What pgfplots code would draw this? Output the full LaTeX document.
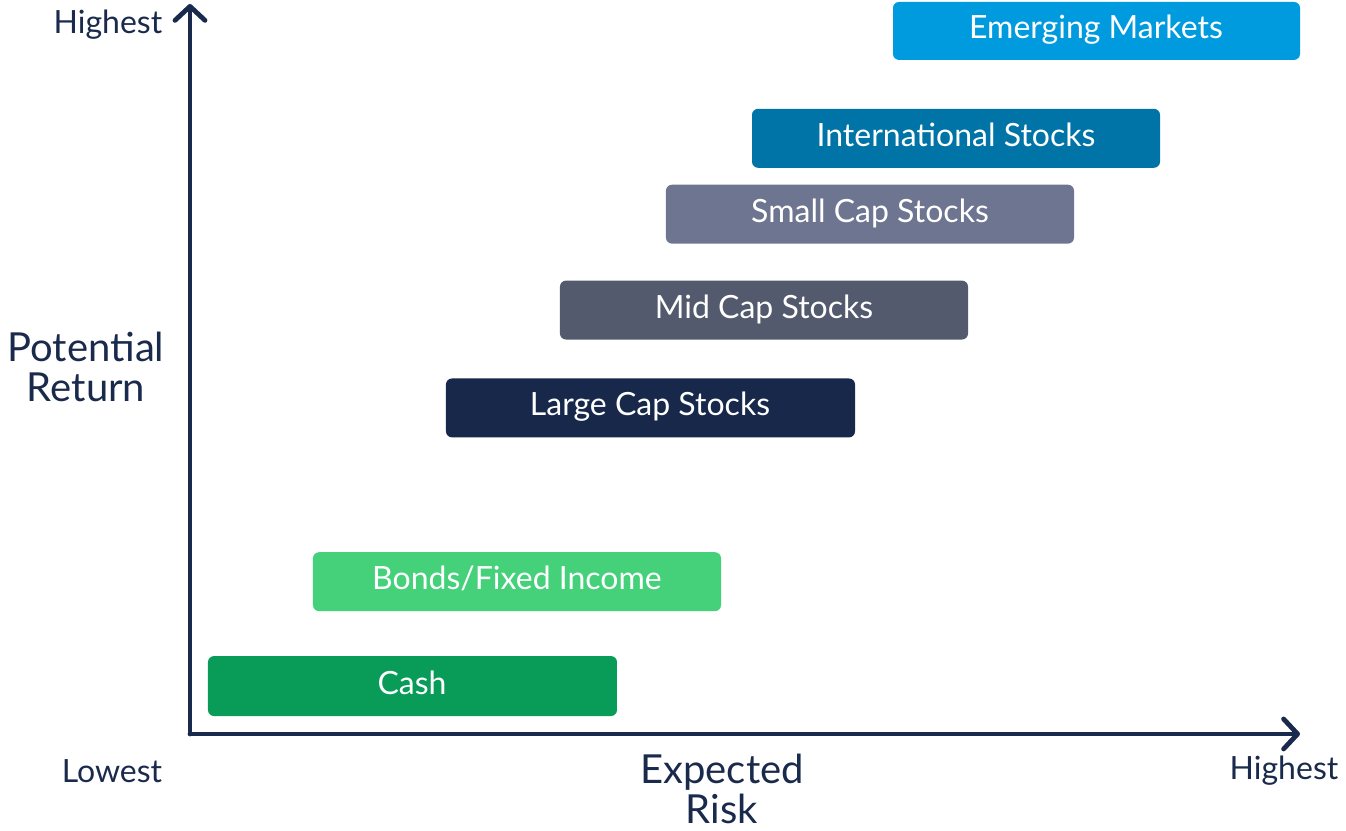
\documentclass[border=0pt]{standalone}
\usepackage{pgfplots}
\pgfplotsset{compat=1.18}
\usetikzlibrary{arrows.meta}
\usepackage{fontspec}
\setmainfont{Lato}

\definecolor{navy}{HTML}{1A2A4C}
\definecolor{emerging}{HTML}{009BDE}
\definecolor{intl}{HTML}{0074A6}
\definecolor{smallcap}{HTML}{6E7590}
\definecolor{midcap}{HTML}{535A6D}
\definecolor{largecap}{HTML}{17284B}
\definecolor{bonds}{HTML}{45D17A}
\definecolor{cash}{HTML}{089C58}

% coordinates are in picture pixels, y measured from the bottom
\pgfplotsset{
  riskbar/.style={draw=none, fill=#1, rounded corners=3pt, mark=none},
}
\tikzset{
  barlabel/.style={text=white, anchor=base, yshift=-4pt, font=\fontsize{16}{16}\selectfont},
  sidelabel/.style={text=navy, font=\fontsize{16}{16}\selectfont},
  biglabel/.style={text=navy, align=center, font=\fontsize{20}{20}\selectfont},
}

\begin{document}
\begin{tikzpicture}
\begin{axis}[
  scale only axis,
  width=555pt, height=365pt,
  xmin=190, xmax=1300,
  ymin=91, ymax=822,
  axis lines=left,
  axis line style={line width=2.4pt, navy, line cap=round,
    -{Straight Barb[length=7pt, width=15pt, round]}},
  xtick=\empty, ytick=\empty,
  clip=false,
]
  % invisible frame of the whole picture
  \path (axis cs:0,0) rectangle (axis cs:1346,826);

  \addplot[riskbar=emerging] coordinates {(893,766) (1300,766) (1300,824) (893,824)} -- cycle;
  \addplot[riskbar=intl]     coordinates {(752,658) (1160,658) (1160,717) (752,717)} -- cycle;
  \addplot[riskbar=smallcap] coordinates {(666,582) (1074,582) (1074,641) (666,641)} -- cycle;
  \addplot[riskbar=midcap]   coordinates {(560,486) (968,486) (968,545) (560,545)} -- cycle;
  \addplot[riskbar=largecap] coordinates {(446,388) (855,388) (855,447) (446,447)} -- cycle;
  \addplot[riskbar=bonds]    coordinates {(313,214) (721,214) (721,273) (313,273)} -- cycle;
  \addplot[riskbar=cash]     coordinates {(208,109) (617,109) (617,169) (208,169)} -- cycle;

  \node[barlabel] at (axis cs:1096,795) {Emerging Markets};
  \node[barlabel] at (axis cs:956,687.5) {International Stocks};
  \node[barlabel] at (axis cs:870,611.5) {Small Cap Stocks};
  \node[barlabel] at (axis cs:764,515.5) {Mid Cap Stocks};
  \node[barlabel] at (axis cs:650,417.5) {Large Cap Stocks};
  \node[barlabel] at (axis cs:517,243.5) {Bonds/Fixed Income};
  \node[barlabel] at (axis cs:412,139) {Cash};

  \node[sidelabel] at (axis cs:108,801) {Highest};
  \node[sidelabel] at (axis cs:112,54) {Lowest};
  \node[sidelabel] at (axis cs:1284,54) {Highest};
  \node[biglabel] at (axis cs:86,459) {Potential\\Return};
  \node[biglabel] at (axis cs:722,36) {Expected\\Risk};
\end{axis}
\end{tikzpicture}
\end{document}
